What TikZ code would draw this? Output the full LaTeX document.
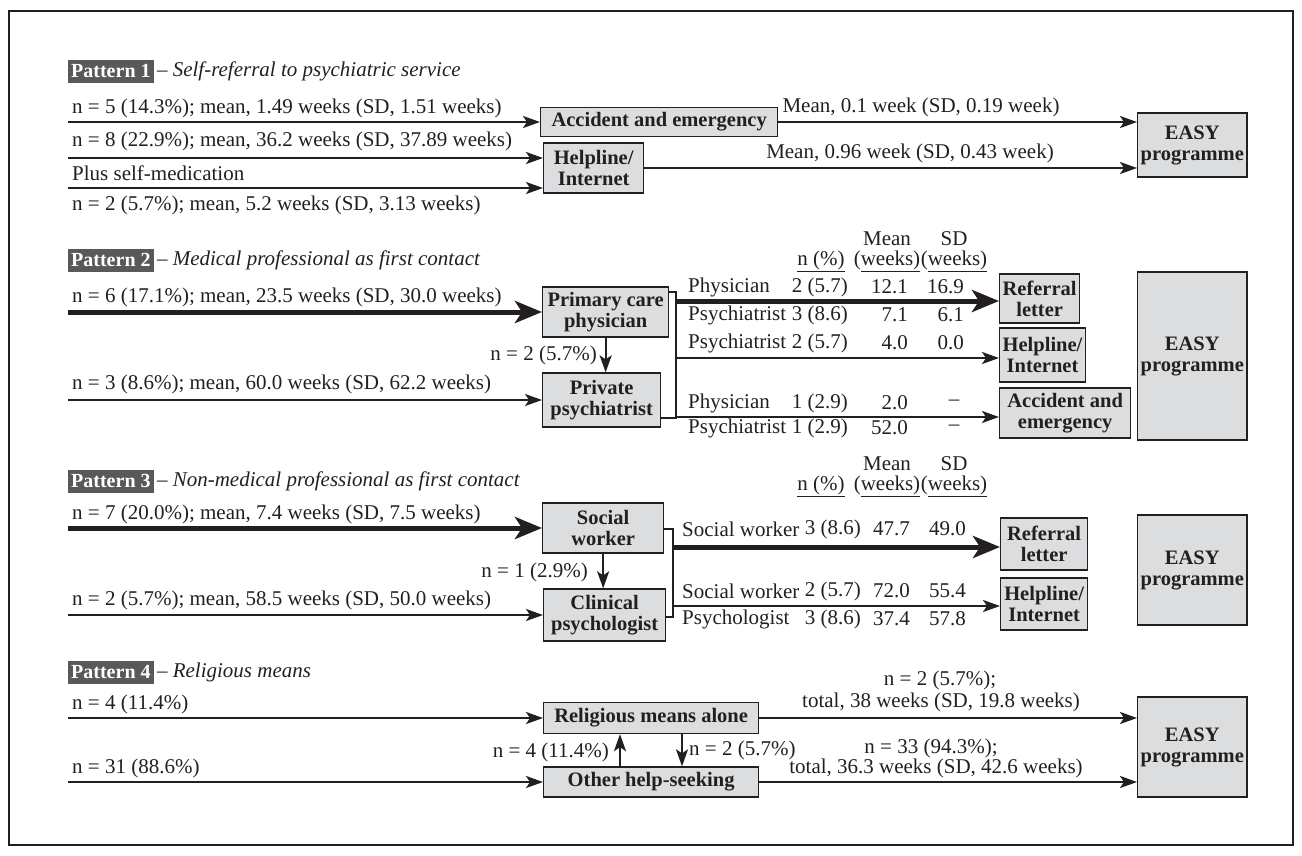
\documentclass[tikz,border=0pt]{standalone}
\usepackage{fontspec}
\setmainfont{Liberation Serif}
\usetikzlibrary{arrows.meta}
\definecolor{ink}{HTML}{231F20}
\definecolor{boxfill}{HTML}{DCDDDE}
\definecolor{patfill}{HTML}{58595B}
\begin{document}
\begin{tikzpicture}[x=1pt,y=-1pt,
  lab/.style={font=\fontsize{21}{22}\selectfont, text=ink, inner sep=0pt},
  box/.style={draw=ink, fill=boxfill, line width=1.3pt, font=\fontsize{20.5}{21}\selectfont\bfseries, align=center, inner xsep=3pt, inner ysep=1pt, text=ink, anchor=west},
  pat/.style={fill=patfill, text=white, font=\fontsize{20}{21}\selectfont\bfseries, inner xsep=3pt, inner ysep=0pt, minimum height=23, anchor=west},
  sub/.style={font=\fontsize{21}{22}\selectfont, text=ink, inner sep=0pt, anchor=west},
  arr/.style={draw=ink, line width=2.2pt, -{Stealth[length=17pt,width=12pt,inset=4pt]}},
  tarr/.style={draw=ink, line width=5pt, -{Stealth[length=27pt,width=22pt,inset=7pt]}},
  ln/.style={draw=ink, line width=2pt}]
\useasboundingbox (0,0) rectangle (1302,855);
\draw[ink, line width=1.5pt] (9,11) rectangle (1293,845);

% ---------------- Pattern 1
\node[pat] (p1) at (68,71) {Pattern 1};
\node[sub] (p1s) at ([xshift=3pt]p1.east) {– \textit{Self-referral to psychiatric service}};
\node[box, minimum width=237, minimum height=29] (acc1) at (540,122) {Accident and emergency};
\node[box, minimum width=100, minimum height=50] (help1) at (543,168) {Helpline/\\Internet};
\node[box, minimum width=98, minimum height=64] (easy1) at (1137,145) {EASY\\programme};
\node[lab, anchor=west] (t11) at (72,108) {n = 5 (14.3\%); mean, 1.49 weeks (SD, 1.51 weeks)};
\node[lab, anchor=west] (t12) at (72,141) {n = 8 (22.9\%); mean, 36.2 weeks (SD, 37.89 weeks)};
\node[lab, anchor=west] (t13) at (72,173) {Plus self-medication};
\node[lab, anchor=west] (t14) at (72,205) {n = 2 (5.7\%); mean, 5.2 weeks (SD, 3.13 weeks)};
\coordinate (s11) at (68,122);
\coordinate (s12) at (68,158);
\coordinate (s13) at (68,188);
\draw[arr] (s11) -- (s11 -| acc1.west);
\draw[arr] (s12) -- (s12 -| help1.west);
\draw[arr] (s13) -- (s13 -| help1.west);
\draw[arr] (acc1.east) -- (acc1.east -| easy1.west);
\draw[arr] (help1.east) -- (help1.east -| easy1.west);
\node[lab, anchor=west] (m11) at ([xshift=4pt,yshift=15pt]acc1.east) {Mean, 0.1 week (SD, 0.19 week)};
\node[lab] (m12) at (910,153) {Mean, 0.96 week (SD, 0.43 week)};

% ---------------- Pattern 2
\node[pat] (p2) at (68,260) {Pattern 2};
\node[sub] (p2s) at ([xshift=3pt]p2.east) {– \textit{Medical professional as first contact}};
\node[lab] (h2a) at (887,239) {Mean};
\node[lab] (h2b) at (954,239) {SD};
\node[lab] (h2c) at (821,261) {\underline{n (\%)}};
\node[lab] (h2d) at (887,261) {(\underline{weeks)}};
\node[lab] (h2e) at (954,261) {(\underline{weeks)}};
\node[box, minimum width=126, minimum height=50] (pc) at (542,312) {Primary care\\physician};
\node[box, minimum width=118, minimum height=54] (pp) at (542,400) {Private\\psychiatrist};
\node[box, minimum width=70, minimum height=49] (rl2) at (999,298.5) {Referral\\letter};
\node[box, minimum width=73, minimum height=54] (hl2) at (999,355) {Helpline/\\Internet};
\node[box, minimum width=131, minimum height=50] (ae2) at (999,413) {Accident and\\emergency};
\node[box, minimum width=98, minimum height=168] (easy2) at (1137,356) {EASY\\programme};
\node[lab, anchor=west] (t21) at (72,297) {n = 6 (17.1\%); mean, 23.5 weeks (SD, 30.0 weeks)};
\node[lab, anchor=west] (t22) at (72,384) {n = 3 (8.6\%); mean, 60.0 weeks (SD, 62.2 weeks)};
\coordinate (s21) at (68,312);
\coordinate (s22) at (68,400);
\draw[tarr] (s21) -- (s21 -| pc.west);
\draw[arr] (s22) -- (s22 -| pp.west);
\draw[arr] (pc.south) -- (pc.south |- pp.north);
\node[lab, anchor=east] (n21) at (597,355) {n = 2 (5.7\%)};
\coordinate (b2t) at (676,292);
\coordinate (b2b) at (676,418);
\draw[ln] (b2t -| pc.east) -- (b2t) -- (b2b) -- (b2b -| pp.east);
\coordinate (o21) at (676,301);
\coordinate (o22) at (676,358);
\coordinate (o23) at (676,417);
\draw[tarr] (o21) -- (o21 -| rl2.west);
\draw[arr] (o22) -- (o22 -| hl2.west);
\draw[arr] (o23) -- (o23 -| ae2.west);
% table
\node[lab, anchor=west] (r1a) at (688,287) {Physician};
\node[lab, anchor=east] (r1b) at (848,287) {2 (5.7)};
\node[lab, anchor=east] (r1c) at (908,287) {12.1};
\node[lab, anchor=east] (r1d) at (964,287) {16.9};
\node[lab, anchor=west] (r2a) at (688,315) {Psychiatrist};
\node[lab, anchor=east] (r2b) at (848,315) {3 (8.6)};
\node[lab, anchor=east] (r2c) at (908,315) {7.1};
\node[lab, anchor=east] (r2d) at (964,315) {6.1};
\node[lab, anchor=west] (r3a) at (688,343) {Psychiatrist};
\node[lab, anchor=east] (r3b) at (848,343) {2 (5.7)};
\node[lab, anchor=east] (r3c) at (908,343) {4.0};
\node[lab, anchor=east] (r3d) at (964,343) {0.0};
\node[lab, anchor=west] (r4a) at (688,403) {Physician};
\node[lab, anchor=east] (r4b) at (848,403) {1 (2.9)};
\node[lab, anchor=east] (r4c) at (908,403) {2.0};
\node[lab] (r4d) at (954,403) {–};
\node[lab, anchor=west] (r5a) at (688,428) {Psychiatrist};
\node[lab, anchor=east] (r5b) at (848,428) {1 (2.9)};
\node[lab, anchor=east] (r5c) at (908,428) {52.0};
\node[lab] (r5d) at (954,428) {–};

% ---------------- Pattern 3
\node[pat] (p3) at (68,481) {Pattern 3};
\node[sub] (p3s) at ([xshift=3pt]p3.east) {– \textit{Non-medical professional as first contact}};
\node[lab] (h3a) at (887,464) {Mean};
\node[lab] (h3b) at (954,464) {SD};
\node[lab] (h3c) at (821,486) {\underline{n (\%)}};
\node[lab] (h3d) at (887,486) {(\underline{weeks)}};
\node[lab] (h3e) at (954,486) {(\underline{weeks)}};
\node[box, minimum width=121, minimum height=50] (sw) at (542,528) {Social\\worker};
\node[box, minimum width=122, minimum height=52] (cp) at (543,615) {Clinical\\psychologist};
\node[box, minimum width=87, minimum height=52] (rl3) at (1000,544) {Referral\\letter};
\node[box, minimum width=87, minimum height=52] (hl3) at (1000,604) {Helpline/\\Internet};
\node[box, minimum width=98, minimum height=110] (easy3) at (1137,570) {EASY\\programme};
\node[lab, anchor=west] (t31) at (72,514) {n = 7 (20.0\%); mean, 7.4 weeks (SD, 7.5 weeks)};
\node[lab, anchor=west] (t32) at (72,600) {n = 2 (5.7\%); mean, 58.5 weeks (SD, 50.0 weeks)};
\coordinate (s31) at (68,528);
\coordinate (s32) at (68,615);
\draw[tarr] (s31) -- (s31 -| sw.west);
\draw[arr] (s32) -- (s32 -| cp.west);
\draw[arr] (sw.south) -- (sw.south |- cp.north);
\node[lab, anchor=east] (n31) at (588,572) {n = 1 (2.9\%)};
\coordinate (b3t) at (673,529);
\coordinate (b3b) at (673,617);
\draw[ln] (b3t -| sw.east) -- (b3t) -- (b3b) -- (b3b -| cp.east);
\coordinate (o31) at (673,547);
\coordinate (o32) at (673,606);
\draw[tarr] (o31) -- (o31 -| rl3.west);
\draw[arr] (o32) -- (o32 -| hl3.west);
\node[lab, anchor=west] (q1a) at (682,529) {Social worker};
\node[lab, anchor=east] (q1b) at (861,529) {3 (8.6)};
\node[lab, anchor=east] (q1c) at (910,529) {47.7};
\node[lab, anchor=east] (q1d) at (966,529) {49.0};
\node[lab, anchor=west] (q2a) at (682,591) {Social worker};
\node[lab, anchor=east] (q2b) at (861,591) {2 (5.7)};
\node[lab, anchor=east] (q2c) at (910,591) {72.0};
\node[lab, anchor=east] (q2d) at (966,591) {55.4};
\node[lab, anchor=west] (q3a) at (682,619) {Psychologist};
\node[lab, anchor=east] (q3b) at (861,619) {3 (8.6)};
\node[lab, anchor=east] (q3c) at (910,619) {37.4};
\node[lab, anchor=east] (q3d) at (966,619) {57.8};

% ---------------- Pattern 4
\node[pat] (p4) at (68,672) {Pattern 4};
\node[sub] (p4s) at ([xshift=3pt]p4.east) {– \textit{Religious means}};
\node[box, minimum width=215, minimum height=31] (rm) at (543,718) {Religious means alone};
\node[box, minimum width=215, minimum height=30] (oh) at (543,782) {Other help-seeking};
\node[box, minimum width=98, minimum height=100] (easy4) at (1137,747) {EASY\\programme};
\node[lab, anchor=west] (t41) at (72,704) {n = 4 (11.4\%)};
\node[lab, anchor=west] (t42) at (72,768) {n = 31 (88.6\%)};
\coordinate (s41) at (68,718);
\coordinate (s42) at (68,782);
\draw[arr] (s41) -- (s41 -| rm.west);
\draw[arr] (s42) -- (s42 -| oh.west);
\coordinate (u4) at (620,0);
\coordinate (d4) at (682,0);
\draw[arr] (u4 |- oh.north) -- (u4 |- rm.south);
\draw[arr] (d4 |- rm.south) -- (d4 |- oh.north);
\node[lab, anchor=east] (n41) at (609,752) {n = 4 (11.4\%)};
\node[lab, anchor=west] (n42) at (689,750) {n = 2 (5.7\%)};
\draw[arr] (rm.east) -- (rm.east -| easy4.west);
\draw[arr] (oh.east) -- (oh.east -| easy4.west);
\node[lab] (e41) at (940,680) {n = 2 (5.7\%);};
\node[lab] (e42) at (941,702) {total, 38 weeks (SD, 19.8 weeks)};
\node[lab] (e43) at (931,748) {n = 33 (94.3\%);};
\node[lab] (e44) at (936,768) {total, 36.3 weeks (SD, 42.6 weeks)};
\end{tikzpicture}
\end{document}
